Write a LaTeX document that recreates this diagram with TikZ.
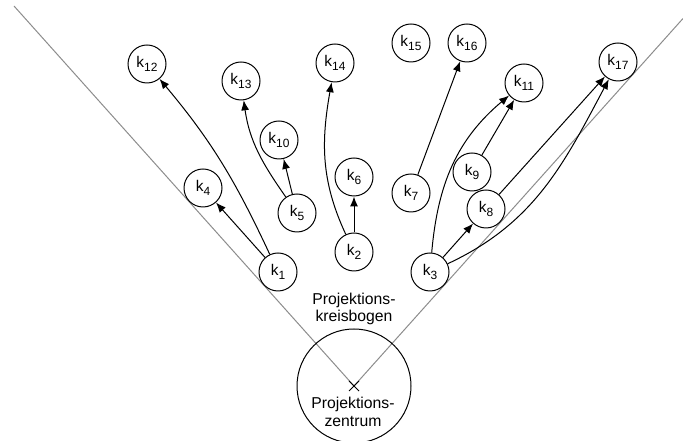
\documentclass[tikz,border=0pt]{standalone}
\usepackage{fontspec}
\setmainfont{Liberation Sans}
\usetikzlibrary{arrows.meta,calc}
\newcommand\kk[1]{k\raisebox{-3.8bp}{\fontsize{12}{12}\selectfont #1}}
\begin{document}
\begin{tikzpicture}[x=1bp,y=1bp,
  knode/.style={circle,draw,line width=1bp,minimum size=38bp,inner sep=0pt,font=\fontsize{15.5}{15.5}\selectfont},
  edge/.style={line width=1bp,-{Latex[length=10bp,width=8bp]}},
  rayline/.style={draw=black!45,line width=1bp},
  lbl/.style={align=center,font=\fontsize{15.8}{17.5}\selectfont}]
\useasboundingbox (0,0) rectangle (683,441);
\coordinate (c) at (354,55);
\coordinate (lend) at (14,435);
\coordinate (rend) at (683,422.5);
\draw[rayline] (lend) -- (c) -- (rend);
\node[circle,draw,line width=1bp,minimum size=114bp,inner sep=0pt] (pz) at (c) {};
\draw[line width=0.8bp] ($(c)+(-5,-5)$) -- ($(c)+(5,5)$) ($(c)+(-5,5)$) -- ($(c)+(5,-5)$);
\node[lbl] (pzt) at (353,29) {Projektions-\\zentrum};
\node[lbl] (pkb) at (354,132) {Projektions-\\kreisbogen};
\node[knode] (k1) at (278,169) {\kk{1}};
\node[knode] (k2) at (354,189) {\kk{2}};
\node[knode] (k3) at (430,169) {\kk{3}};
\node[knode] (k4) at (203,253) {\kk{4}};
\node[knode] (k5) at (297,228) {\kk{5}};
\node[knode] (k6) at (354,264) {\kk{6}};
\node[knode] (k7) at (411,248) {\kk{7}};
\node[knode] (k8) at (486,232) {\kk{8}};
\node[knode] (k9) at (472,269) {\kk{9}};
\node[knode] (k10) at (279,301) {\kk{10}};
\node[knode] (k11) at (524,358) {\kk{11}};
\node[knode] (k12) at (147,377) {\kk{12}};
\node[knode] (k13) at (241,360) {\kk{13}};
\node[knode] (k14) at (335,378) {\kk{14}};
\node[knode] (k15) at (411,398) {\kk{15}};
\node[knode] (k16) at (467,398) {\kk{16}};
\node[knode] (k17) at (618,379) {\kk{17}};
\draw[edge] (k1) -- (k4);
\draw[edge] (k1) to[out=115,in=-50] (k12);
\draw[edge] (k5) -- (k10);
\draw[edge] (k5) to[out=125,in=-82] (k13);
\draw[edge] (k2) -- (k6);
\draw[edge] (k2) to[out=115,in=-100] (k14);
\draw[edge] (k7) -- (k16);
\draw[edge] (k9) -- (k11);
\draw[edge] (k3) -- (k8);
\draw[edge] (k3) to[out=85,in=-140] (k11);
\draw[edge] (k8) -- (k17);
\draw[edge] (k3) to[out=25,in=-118] (k17);
\end{tikzpicture}
\end{document}
